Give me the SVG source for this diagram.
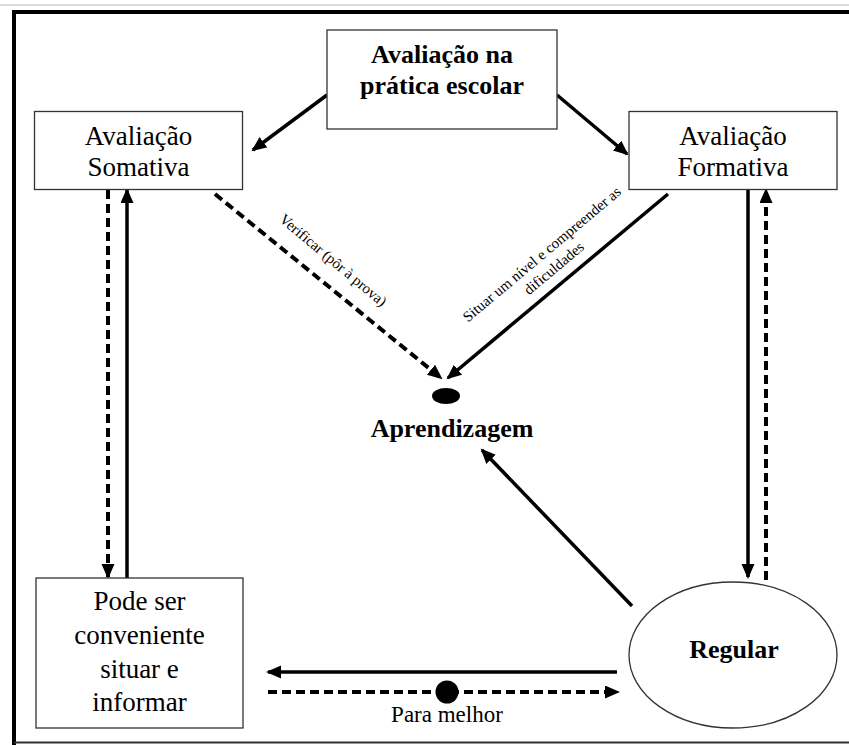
<svg xmlns="http://www.w3.org/2000/svg" width="849" height="745" viewBox="0 0 849 745">
<style>
.box{fill:#fff;stroke:#333;stroke-width:1.3}
text{font-family:'Liberation Serif','Times New Roman','DejaVu Serif',serif;fill:#000;text-anchor:middle}
.r{font-size:27px}
.b{font-size:26px;font-weight:bold}
.s{font-size:15px}
.sol{fill:none;stroke:#000;stroke-width:3.5}
.dash{fill:none;stroke:#000;stroke-width:4;stroke-dasharray:9 5}
</style>
<defs>
<marker id="ah" markerUnits="userSpaceOnUse" markerWidth="16" markerHeight="14" refX="13" refY="6.5" orient="auto">
<path d="M0,0 L15,6.5 L0,13 z" fill="#000"/>
</marker>
</defs>
<rect width="849" height="745" fill="#fff"/>
<g id="frame">
<line x1="0" y1="5" x2="849" y2="5" stroke="#ddd" stroke-width="2"/>
<path d="M14,745 V12 H849" fill="none" stroke="#000" stroke-width="4"/>
<line x1="14" y1="742.5" x2="849" y2="742.5" stroke="#333" stroke-width="2"/>
</g>
<g id="connectors" font-family="Liberation Serif, serif">
<path class="sol" d="M327,95 L253,150" marker-end="url(#ah)"/>
<path class="sol" d="M557,95 L627,154" marker-end="url(#ah)"/>
<path class="dash" d="M215,194 L441,378" marker-end="url(#ah)"/>
<path class="sol" d="M668,194 L448,378" marker-end="url(#ah)"/>
<path class="dash" d="M108,190 V577" marker-end="url(#ah)"/>
<path class="sol" d="M127,578 V190" marker-end="url(#ah)"/>
<path class="sol" d="M748,190 V577" marker-end="url(#ah)"/>
<path class="dash" d="M766,580 V190" marker-end="url(#ah)"/>
<path class="sol" d="M632,606 L482,450" marker-end="url(#ah)"/>
<path class="sol" d="M617,672 H268" marker-end="url(#ah)"/>
<path class="dash" d="M268,692 H618" marker-end="url(#ah)"/>
<circle cx="447" cy="692" r="11.5" fill="#000"/>
<text class="s" x="330" y="264" transform="rotate(40 330 264)">Verificar (pôr à prova)</text>
<text class="s" x="545" y="258" transform="rotate(-40 545 258)">Situar um nível e compreender as</text>
<text class="s" x="557" y="272" transform="rotate(-40 557 272)">dificuldades</text>
<text x="447" y="722" style="font-size:23px">Para melhor</text>
</g>
<g id="pratica">
<rect class="box" x="327" y="30" width="230" height="99"/>
<text class="b" x="442" y="63">Avaliação na</text>
<text class="b" x="442" y="94">prática escolar</text>
</g>
<g id="somativa">
<rect class="box" x="34.5" y="111.5" width="208" height="78"/>
<text class="r" x="138.5" y="145">Avaliação</text>
<text class="r" x="138.5" y="176">Somativa</text>
</g>
<g id="formativa">
<rect class="box" x="629" y="111.5" width="208" height="78"/>
<text class="r" x="733" y="145">Avaliação</text>
<text class="r" x="733" y="176">Formativa</text>
</g>
<g id="aprendizagem">
<ellipse cx="446" cy="396" rx="14" ry="8" fill="#000"/>
<text class="b" x="452" y="437">Aprendizagem</text>
</g>
<g id="pode">
<rect class="box" x="36" y="578" width="207" height="150"/>
<text class="r" x="139.5" y="610">Pode ser</text>
<text class="r" x="139.5" y="644">conveniente</text>
<text class="r" x="139.5" y="678">situar e</text>
<text class="r" x="139.5" y="711">informar</text>
</g>
<g id="regular">
<ellipse class="box" cx="733" cy="655" rx="104" ry="73"/>
<text class="b" x="734" y="658">Regular</text>
</g>
</svg>
